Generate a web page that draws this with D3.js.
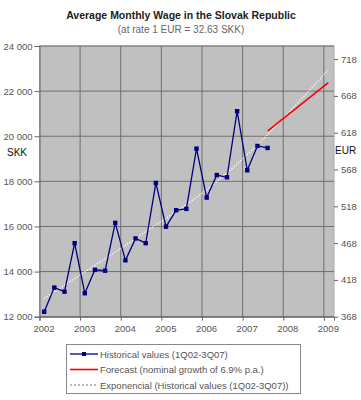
<!DOCTYPE html>
<html lang="en">
<head>
<meta charset="utf-8">
<script src="https://cdn.jsdelivr.net/npm/d3@7/dist/d3.min.js"></script>
<style>
	body { margin: 0; background: #fff; }
	svg { font-family: "Liberation Sans", Arial, sans-serif; }
	.tick text { fill: #555; font-size: 9.5px; }
</style>
</head>
<body>
<svg id="chart" width="361" height="400"></svg>
<script>
	// quarterly wages 1Q02 - 3Q07 (SKK)
	var quarters = ["1Q02","2Q02","3Q02","4Q02","1Q03","2Q03","3Q03","4Q03",
		"1Q04","2Q04","3Q04","4Q04","1Q05","2Q05","3Q05","4Q05",
		"1Q06","2Q06","3Q06","4Q06","1Q07","2Q07","3Q07"];
	var wages = [12220,13290,13110,15260,13040,14080,14040,16160,
		14500,15470,15260,17930,15990,16720,16780,19450,
		17280,18280,18180,21110,18490,19570,19480];
	// forecast (6.9% p.a.) and exponential trend, [decimal year, SKK]
	var forecast = [[2007.62, 20240], [2009.11, 22380]];
	var trend = [[2002.11, 12816], [2004.43, 15548], [2006.32, 17920], [2009.11, 22941]];
	var years = [2002, 2003, 2004, 2005, 2006, 2007, 2008, 2009];
	var skkTicks = [12000, 14000, 16000, 18000, 20000, 22000, 24000];
	var eurTicks = [368, 418, 468, 518, 568, 618, 668, 718];
	var rate = 32.63;
	var legendLabels = ["Historical values (1Q02-3Q07)",
		"Forecast (nominal growth of 6.9% p.a.)",
		"Exponencial (Historical values (1Q02-3Q07))"];

	var svg = d3.select("#chart");
	var plotL = 39.5, plotR = 334, plotT = 46, plotB = 316.7;

	var x = d3.scaleLinear().domain([2002, 2009.25]).range([plotL, plotR]);
	var y = d3.scaleLinear().domain([12000, 24000]).range([plotB, plotT]);

	function qYear(q) {
		return 2000 + +q.slice(2) + (+q[0] - 1) / 4 + 0.115;
	}
	var hist = quarters.map(function(q, i) { return [qYear(q), wages[i]]; });

	var fmt = d3.formatLocale({decimal: ".", thousands: " ", grouping: [3]}).format(",");

	// titles
	svg.append("text").attr("x", 181).attr("y", 19).attr("text-anchor", "middle")
		.attr("font-size", 10.5).attr("font-weight", "bold").attr("fill", "#222")
		.text("Average Monthly Wage in the Slovak Republic");
	svg.append("text").attr("x", 181).attr("y", 33).attr("text-anchor", "middle")
		.attr("font-size", 10).attr("fill", "#666")
		.text("(at rate 1 EUR = 32.63 SKK)");

	// plot area
	svg.append("rect").attr("x", plotL).attr("y", plotT)
		.attr("width", plotR - plotL).attr("height", plotB - plotT)
		.attr("fill", "#c0c0c0").attr("stroke", "#aaa");

	// grid
	svg.append("g").selectAll("line").data(skkTicks).enter().append("line")
		.attr("x1", plotL).attr("x2", plotR)
		.attr("y1", function(d) { return y(d); }).attr("y2", function(d) { return y(d); })
		.attr("stroke", "#6e6e6e");
	svg.append("g").selectAll("line").data(years.slice(1)).enter().append("line")
		.attr("x1", function(d) { return x(d); }).attr("x2", function(d) { return x(d); })
		.attr("y1", plotT).attr("y2", plotB)
		.attr("stroke", "#6e6e6e");

	// left axis
	var yAxis = svg.append("g").attr("transform", "translate(" + plotL + ",0)")
		.call(d3.axisLeft(y).tickValues(skkTicks).tickFormat(fmt).tickSize(5).tickPadding(2));
	yAxis.selectAll("path, line").attr("stroke", "#666");

	// right axis in EUR
	var yEur = d3.scaleLinear().domain([12000 / rate, 24000 / rate]).range([plotB, plotT]);
	var rAxis = svg.append("g").attr("transform", "translate(" + plotR + ",0)")
		.call(d3.axisRight(yEur).tickValues(eurTicks.map(function(d) { return d - 0.25; }))
			.tickFormat(function(d) { return Math.round(d); }).tickSize(4).tickPadding(3));
	rAxis.select("path").remove();
	rAxis.selectAll("line").attr("stroke", "#666");

	// bottom axis
	var xAxis = svg.append("g").attr("transform", "translate(0," + plotB + ")")
		.call(d3.axisBottom(x).tickValues(years).tickFormat(d3.format("d")).tickSize(4).tickPadding(5));
	xAxis.select("path").attr("stroke", "#666");
	xAxis.selectAll("line").attr("stroke", "#666");
	xAxis.selectAll("text").attr("dx", 4);

	// unit labels
	svg.append("text").attr("x", 7).attr("y", 156).attr("font-size", 10).attr("fill", "#111").text("SKK");
	svg.append("text").attr("x", 335).attr("y", 154).attr("font-size", 10).attr("fill", "#111").text("EUR");

	var line = d3.line().x(function(d) { return x(d[0]); }).y(function(d) { return y(d[1]); });

	// trend
	svg.append("path").datum(trend)
		.attr("d", line.curve(d3.curveMonotoneX))
		.attr("fill", "none").attr("stroke", "#ffffff").attr("stroke-width", 1.1)
		.attr("stroke-dasharray", "1.5,1.5");
	line.curve(d3.curveLinear);

	// forecast
	svg.append("path").datum(forecast).attr("d", line)
		.attr("fill", "none").attr("stroke", "#ff0000").attr("stroke-width", 1.6);

	// history
	svg.append("path").datum(hist).attr("d", line)
		.attr("fill", "none").attr("stroke", "#000080").attr("stroke-width", 1.3);
	svg.append("g").selectAll("rect").data(hist).enter().append("rect")
		.attr("x", function(d) { return x(d[0]) - 2.2; })
		.attr("y", function(d) { return y(d[1]) - 2.2; })
		.attr("width", 4.4).attr("height", 4.4).attr("fill", "#000080");

	// legend
	var lg = svg.append("g");
	lg.append("rect").attr("x", 66.5).attr("y", 344.5).attr("width", 234).attr("height", 49)
		.attr("fill", "#fff").attr("stroke", "#888");
	var rowY = [354, 369.5, 385];
	var styles = [
		{stroke: "#000080", width: 1.3, dash: null},
		{stroke: "#ff0000", width: 1.6, dash: null},
		{stroke: "#777", width: 1, dash: "2,2"}
	];
	legendLabels.forEach(function(label, i) {
		lg.append("line").attr("x1", 70).attr("x2", 98).attr("y1", rowY[i]).attr("y2", rowY[i])
			.attr("stroke", styles[i].stroke).attr("stroke-width", styles[i].width)
			.attr("stroke-dasharray", styles[i].dash);
		if (i === 0) {
			lg.append("rect").attr("x", 82).attr("y", rowY[i] - 2).attr("width", 4).attr("height", 4)
				.attr("fill", "#000080");
		}
		lg.append("text").attr("x", 100).attr("y", rowY[i] + 3.5).attr("font-size", 9.5)
			.attr("fill", "#555").text(label);
	});
</script>
</body>
</html>
